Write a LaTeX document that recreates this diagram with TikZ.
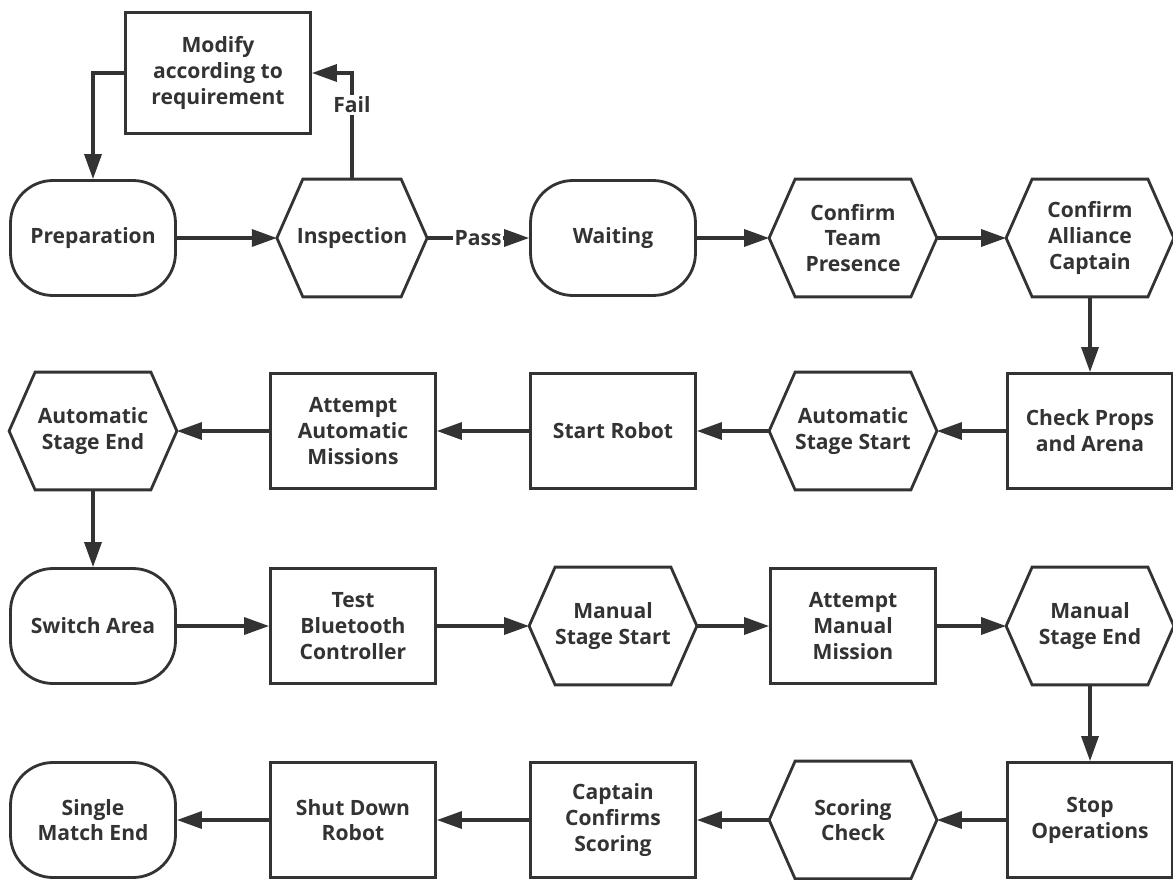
\documentclass[tikz,border=0pt]{standalone}
\usepackage{fontspec}
\setmainfont{Open Sans}
\usetikzlibrary{arrows.meta}
\definecolor{ink}{HTML}{333333}
\begin{document}
\begin{tikzpicture}[x=0.02cm,y=-0.02cm,line width=1.6pt,
  every node/.style={font=\bfseries\fontsize{12}{14.7}\selectfont,text=ink,align=center},
  box/.style={draw=ink,rectangle,minimum width=3.3cm,minimum height=2.3cm},
  term/.style={draw=ink,rectangle,rounded corners=0.85cm,minimum width=3.3cm,minimum height=2.3cm},
  hexa/.style={rectangle,minimum width=3.3cm,minimum height=2.3cm,
    append after command={\pgfextra{\let\hexnode\tikzlastnode
      \draw[ink,line width=1.6pt] ([xshift=0.52cm]\hexnode.north west) -- ([xshift=-0.52cm]\hexnode.north east)
        -- (\hexnode.east) -- ([xshift=-0.52cm]\hexnode.south east)
        -- ([xshift=0.52cm]\hexnode.south west) -- (\hexnode.west) -- cycle;}}},
  flow/.style={draw=ink,line width=1.9pt,-{Triangle[length=0.5cm,width=0.34cm]}},
  tag/.style={fill=white,inner sep=1pt}]
\useasboundingbox (0,0) rectangle (1173,879);
\node[box,minimum width=3.7cm,minimum height=2.42cm] (modify) at (218,73) {Modify\\according to\\requirement};
\node[term] (prep) at (93,238) {Preparation};
\node[hexa,minimum width=2.95cm] (insp) at (352,238) {Inspection};
\node[term] (wait) at (613,238) {Waiting};
\node[hexa] (team) at (853,238) {Confirm\\Team\\Presence};
\node[hexa] (captain) at (1090,238) {Confirm\\Alliance\\Captain};
\node[box] (props) at (1090,431) {Check Props\\and Arena};
\node[hexa] (autostart) at (853,431) {Automatic\\Stage Start};
\node[box] (robot) at (613,431) {Start Robot};
\node[box] (automission) at (353,431) {Attempt\\Automatic\\Missions};
\node[hexa] (autoend) at (93,431) {Automatic\\Stage End};
\node[term] (switch) at (93,626) {Switch Area};
\node[box] (bluetooth) at (353,626) {Test\\Bluetooth\\Controller};
\node[hexa] (manstart) at (613,626) {Manual\\Stage Start};
\node[box] (manmission) at (853,626) {Attempt\\Manual\\Mission};
\node[hexa] (manend) at (1090,626) {Manual\\Stage End};
\node[box] (stop) at (1090,820) {Stop\\Operations};
\node[hexa] (scoring) at (853,820) {Scoring\\Check};
\node[box] (confirm) at (613,820) {Captain\\Confirms\\Scoring};
\node[box] (shutdown) at (353,820) {Shut Down\\Robot};
\node[term] (matchend) at (93,820) {Single\\Match End};
\path[flow] (modify.west) -| (prep.north);
\path[flow] (insp.north) |- node[tag,pos=0.35] {Fail} (modify.east);
\path[flow] (prep) -- (insp);
\path[flow] (insp) -- node[tag] {Pass} (wait);
\path[flow] (wait) -- (team);
\path[flow] (team) -- (captain);
\path[flow] (captain) -- (props);
\path[flow] (props) -- (autostart);
\path[flow] (autostart) -- (robot);
\path[flow] (robot) -- (automission);
\path[flow] (automission) -- (autoend);
\path[flow] (autoend) -- (switch);
\path[flow] (switch) -- (bluetooth);
\path[flow] (bluetooth) -- (manstart);
\path[flow] (manstart) -- (manmission);
\path[flow] (manmission) -- (manend);
\path[flow] (manend) -- (stop);
\path[flow] (stop) -- (scoring);
\path[flow] (scoring) -- (confirm);
\path[flow] (confirm) -- (shutdown);
\path[flow] (shutdown) -- (matchend);
\end{tikzpicture}
\end{document}
